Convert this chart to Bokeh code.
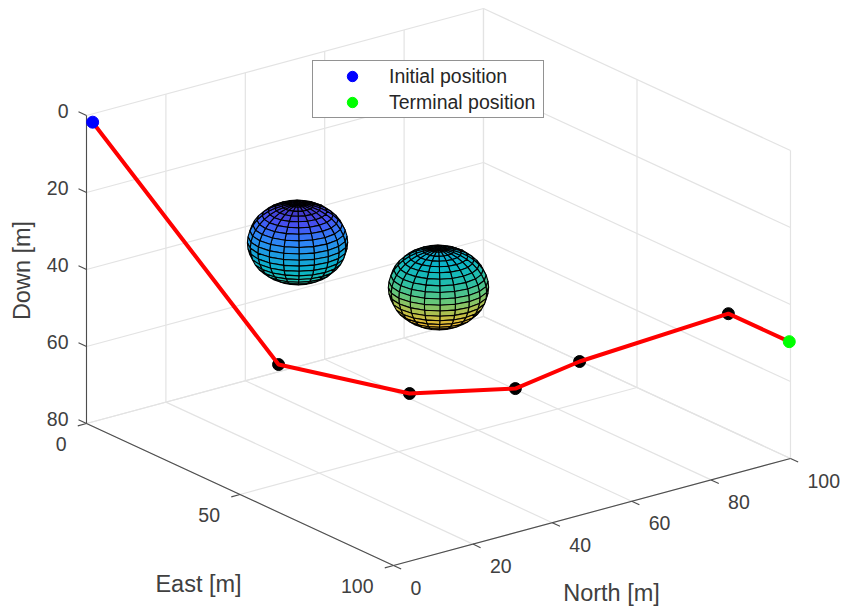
import numpy as np
from bokeh.plotting import figure
from bokeh.embed import file_html
from bokeh.resources import INLINE
from bokeh.models import Range1d, Legend, LegendItem
from bokeh.core.properties import value

# --- data (metres) ---
north_ticks = [0, 20, 40, 60, 80, 100]
east_ticks = [0, 50, 100]
down_ticks = [0, 20, 40, 60, 80]
path_north = [0, 20, 40, 60, 70, 90, 100]
path_east = [2, 36.7, 53.5, 62.1, 70.1, 92.7, 99.6]
path_down = [1, 56.7, 63.6, 64.7, 57.5, 42.3, 49.8]
obstacle_north = [23, 45.2]
obstacle_east = [39, 56.2]
obstacle_down = [25, 36.5]
obstacle_radius = [10, 10]
color_limits = [14, 50]
parula = [(62, 38, 168), (71, 82, 244), (45, 135, 247), (26, 160, 221), (10, 181, 200),
          (37, 190, 170), (100, 199, 124), (180, 192, 75), (235, 186, 50), (253, 205, 50), (249, 251, 21)]

# --- orthographic view of the MATLAB 3-D axes ---
ORIGIN = np.array([86.0, 115.0])
V_N = np.array([3.97, -1.07])
V_E = np.array([3.07, 1.42])
V_D = np.array([0.0, 3.85])


def proj(n, e, d):
    n, e, d = np.asarray(n, float), np.asarray(e, float), np.asarray(d, float)
    return (ORIGIN[0] + V_N[0] * n + V_E[0] * e + V_D[0] * d,
            ORIGIN[1] + V_N[1] * n + V_E[1] * e + V_D[1] * d)


def seg(a, b):
    xa, ya = proj(*a)
    xb, yb = proj(*b)
    return [float(xa), float(xb)], [float(ya), float(yb)]


FONT = value("Liberation Sans")
TXT = "#404040"

p = figure(width=846, height=613, output_backend="svg", toolbar_location=None,
           x_range=Range1d(0, 846), y_range=Range1d(613, 0), min_border=0)
p.axis.visible = False
p.grid.visible = False
p.outline_line_color = None
p.background_fill_color = "white"

# back walls and floor grid
gx, gy = [], []
for n in north_ticks:
    for a, b in [((n, 0, 0), (n, 0, 80)), ((n, 0, 80), (n, 100, 80))]:
        x, y = seg(a, b); gx.append(x); gy.append(y)
for e in east_ticks:
    for a, b in [((100, e, 0), (100, e, 80)), ((0, e, 80), (100, e, 80))]:
        x, y = seg(a, b); gx.append(x); gy.append(y)
for d in down_ticks:
    for a, b in [((0, 0, d), (100, 0, d)), ((100, 0, d), (100, 100, d))]:
        x, y = seg(a, b); gx.append(x); gy.append(y)
p.multi_line(gx, gy, line_color="#e3e3e3", line_width=1.2)

# axis lines and ticks
ax, ay = [], []
for a, b in [((0, 0, 0), (0, 0, 80)), ((0, 0, 80), (0, 100, 80)), ((0, 100, 80), (100, 100, 80))]:
    x, y = seg(a, b); ax.append(x); ay.append(y)
for d in down_ticks:
    x, y = seg((0, 0, d), (0, -2.6, d)); ax.append(x); ay.append(y)
for e in east_ticks:
    x, y = seg((0, e, 80), (-2.2, e, 80)); ax.append(x); ay.append(y)
for n in north_ticks:
    x, y = seg((n, 100, 80), (n, 102.5, 80)); ax.append(x); ay.append(y)
p.multi_line(ax, ay, line_color="#4d4d4d", line_width=1.1)

# spheres
view = np.cross(np.array([V_N[0], V_E[0], V_D[0]]), np.array([V_N[1], V_E[1], V_D[1]]))
if view[2] > 0:
    view = -view  # viewer is above the floor (smaller Down)
pal = np.array(parula, float)
xs, ys, cols = [], [], []
for cn, ce, cd, r in zip(obstacle_north, obstacle_east, obstacle_down, obstacle_radius):
    th = np.linspace(0, 2 * np.pi, 21)
    ph = np.linspace(-np.pi / 2, np.pi / 2, 21)
    for i in range(20):
        for j in range(20):
            pts = []
            for a, b in [(i, j), (i + 1, j), (i + 1, j + 1), (i, j + 1)]:
                pts.append((np.cos(ph[b]) * np.cos(th[a]), np.cos(ph[b]) * np.sin(th[a]), np.sin(ph[b])))
            pts = np.array(pts)
            if pts.mean(axis=0) @ view <= 0:
                continue
            px, py = proj(cn + r * pts[:, 0], ce + r * pts[:, 1], cd + r * pts[:, 2])
            xs.append(px.tolist()); ys.append(py.tolist())
            t = (cd + r * pts[:, 2].mean() - color_limits[0]) / (color_limits[1] - color_limits[0])
            t = float(np.clip(t, 0, 1)) * (len(pal) - 1)
            k = min(int(t), len(pal) - 2)
            c = pal[k] + (pal[k + 1] - pal[k]) * (t - k)
            cols.append("#%02x%02x%02x" % tuple(int(v) for v in c))
p.patches(xs, ys, fill_color=cols, line_color="#000000", line_width=1.1)

# path
px, py = proj(path_north, path_east, path_down)
p.scatter(px[1:-1], py[1:-1], size=12, fill_color="black", line_color="black")
p.line(px, py, line_color="#ff0000", line_width=4)
init = p.scatter(px[:1], py[:1], size=12, fill_color="#0000ff", line_color="#0000ff")
term = p.scatter(px[-1:], py[-1:], size=12, fill_color="#00ff00", line_color="#00ff00")

# tick labels
def labels(x, y, t, align):
    p.text(x, y, text=t, text_font=FONT, text_font_size="19.5px", text_color=TXT,
           text_align=align, text_baseline="middle")

x, y = proj([0] * len(down_ticks), [0] * len(down_ticks), down_ticks)
labels(x - 18, y - 5, [str(v) for v in down_ticks], "right")
x, y = proj([0] * len(east_ticks), east_ticks, [80] * len(east_ticks))
labels(x - 20, y + 20, [str(v) for v in east_ticks], "right")
x, y = proj(north_ticks, [100] * len(north_ticks), [80] * len(north_ticks))
labels(x + 17, y + 22, [str(v) for v in north_ticks], "left")

# axis titles
for tx, ty, t, ang in [(198, 583, "East [m]", 0), (611, 592, "North [m]", 0), (21, 270, "Down [m]", np.pi / 2)]:
    p.text([tx], [ty], text=[t], angle=ang, text_font=FONT, text_font_size="23.5px", text_color=TXT,
           text_align="center", text_baseline="middle")

legend = Legend(items=[LegendItem(label="Initial position", renderers=[init]),
                       LegendItem(label="Terminal position", renderers=[term])],
                location=(312, 495), margin=0, padding=2, spacing=0, glyph_width=74, glyph_height=26,
                label_standoff=0, label_text_font="Liberation Sans", label_text_font_size="19.5px",
                label_text_color="#262626", border_line_color="#262626", border_line_width=1,
                background_fill_color="white", background_fill_alpha=1, label_height=18, label_width=152)
p.add_layout(legend, "center")

open("out.html", "w").write(file_html(p, INLINE))
